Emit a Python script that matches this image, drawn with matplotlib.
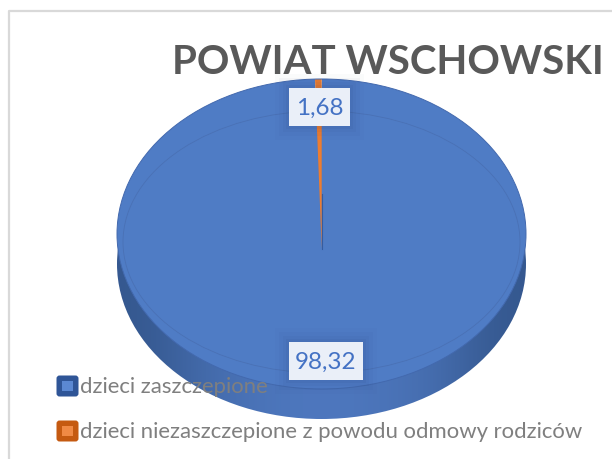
import numpy as np
import matplotlib
matplotlib.use("Agg")
import matplotlib.pyplot as plt
from matplotlib.patches import Ellipse, FancyBboxPatch, Rectangle

title = "POWIAT WSCHOWSKI"
categories = ["dzieci zaszczepione", "dzieci niezaszczepione z powodu odmowy rodziców"]
printed_labels = ["98,32", "1,68"]
# slice shares as drawn in the picture (the thin slice is narrower than its printed label)
drawn_shares = [99.37, 0.63]
face_colors = ["#4F7CC5", "#ED7D31"]
dark_colors = ["#2F5597", "#C55A11"]
light_colors = ["#5B88D2", "#F08A45"]

plt.rcParams["font.family"] = ["Lato", "DejaVu Sans"]
W, H = 612, 460
fig = plt.figure(figsize=(W / 100, H / 100), dpi=100, facecolor="white")
ax = fig.add_axes([0, 0, 1, 1])

def Y(py):
    return H - py

# side wall of the disc, with a left-to-right shade
side = Ellipse((321.5, Y(265)), 409, 310, transform=ax.transData, fc="none", ec="none")
ax.add_patch(side)
grad = np.array([[0.0, 0.6, 0.9, 1.0, 0.9, 0.65, 0.0]])
cmap = matplotlib.colors.LinearSegmentedColormap.from_list("s", ["#35588F", "#4E78BF"])
im = ax.imshow(grad, extent=(117, 526, Y(425), Y(105)), cmap=cmap, aspect="auto",
               interpolation="bicubic", zorder=1)
im.set_clip_path(side)

# top face: pie with its apex below the ellipse centre, clipped to the ellipse
wedges, _ = ax.pie(drawn_shares, colors=face_colors, startangle=90, counterclock=False,
                   center=(321.7, Y(250)), radius=235,
                   wedgeprops=dict(linewidth=0, zorder=2))
clip = Ellipse((321.5, Y(235)), 409, 310, fc="none", ec="none", transform=ax.transData)
ax.add_patch(clip)
for w in wedges:
    w.set_clip_on(True)
    w.set_clip_path(clip)
    w.set_zorder(2)
ax.add_patch(Ellipse((321.5, Y(235)), 409, 310, fc="none", ec="#4369AE", lw=0.7, zorder=2.2))
ax.add_patch(Ellipse((321.5, Y(243)), 397, 262, fc="none", ec="#4668A8", lw=0.6, alpha=0.55, zorder=2.3))
ax.plot([321.7, 321.7], [Y(195), Y(250)], color="#2F5597", lw=0.8, alpha=0.8, zorder=2.4)

def label(text, x0, y0, x1, y1):
    for grow, a in [(14, 0.02), (10, 0.03), (6, 0.04), (3, 0.05)]:
        ax.add_patch(Rectangle((x0 - grow, Y(y1 + grow)), x1 - x0 + 2 * grow, y1 - y0 + 2 * grow,
                               fc="#1F3864", ec="none", alpha=a, zorder=3))
    ax.add_patch(Rectangle((x0, Y(y1)), x1 - x0, y1 - y0, fc="#EAEFF8", ec="none", zorder=3.2))
    ax.text((x0 + x1) / 2, Y((y0 + y1) / 2 + 0.5), text, color="#4472C4", fontsize=17.5,
            ha="center", va="center", zorder=3.4)

label(printed_labels[1], 289, 89, 350, 127)
label(printed_labels[0], 289, 343, 363, 381)

ax.text(387.5, Y(62), title, color="#595959", fontsize=29, fontweight="bold",
        ha="center", va="center", zorder=4)

# legend
for name, dark, light, yc in zip(categories, dark_colors, light_colors, [387, 432]):
    ax.add_patch(FancyBboxPatch((58, Y(yc + 9)), 19, 18, boxstyle="round,pad=1.5,rounding_size=3",
                                fc=dark, ec="none", zorder=5))
    ax.add_patch(Rectangle((62, Y(yc + 5)), 10.5, 10.5, fc=light, ec="none", zorder=5.1))
    ax.text(80, Y(yc), name, color="#7F7F7F", fontsize=15.9, ha="left", va="center", zorder=5.2)

# chart frame
ax.plot([9, 9, W], [0, Y(12), Y(12)], color="#D9D9D9", lw=1.6, zorder=6)

ax.set_xlim(0, W)
ax.set_ylim(0, H)
ax.set_aspect("auto")
ax.axis("off")
fig.savefig("out.png", dpi=100, facecolor="white")
